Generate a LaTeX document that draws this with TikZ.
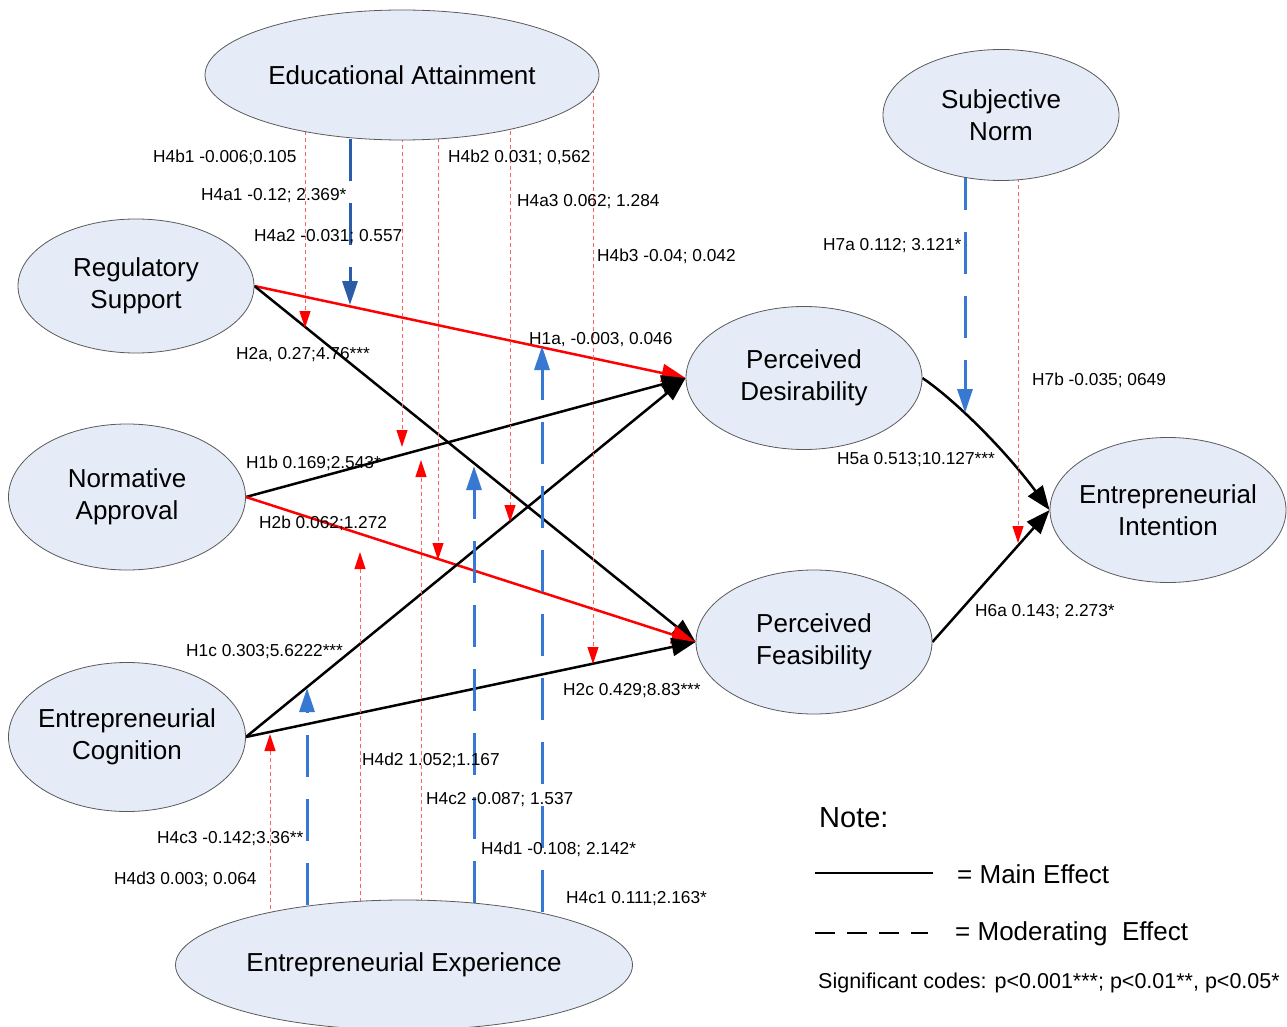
\documentclass[tikz,border=0pt]{standalone}
\usepackage{fontspec}
\setmainfont{Liberation Sans}
\usetikzlibrary{arrows.meta,shapes.geometric,backgrounds}
\definecolor{nodefill}{RGB}{230,236,247}
\definecolor{nodeedge}{RGB}{90,90,90}
\definecolor{darkblue}{RGB}{43,92,168}
\definecolor{lightblue}{RGB}{55,120,210}
\definecolor{dotred}{RGB}{255,95,95}
\tikzset{
  construct/.style={ellipse, draw=nodeedge, line width=0.8pt, fill=nodefill, inner xsep=-20pt, inner ysep=0pt, align=center, font=\fontsize{26}{31.5}\selectfont},
  lbl/.style={anchor=west, inner sep=0pt, font=\fontsize{17.3}{20}\selectfont},
  mainblack/.style={black, line width=2.5pt, -{Triangle[length=24pt,width=18pt]}},
  mainred/.style={red, line width=2.5pt, -{Triangle[length=24pt,width=18pt]}},
  modsig/.style={line width=3pt, dash pattern=on 42pt off 22pt, -{Triangle[length=24pt,width=15pt]}},
  modns/.style={dotred, line width=1pt, dash pattern=on 4pt off 3pt, -{Triangle[length=17pt,width=11pt,color=red]}},
}
\begin{document}
\begin{tikzpicture}[x=1pt,y=-1pt]
\useasboundingbox (0,0) rectangle (1287,1027);
% constructs
\node[construct, minimum width=394pt, minimum height=130pt] (ea) at (402,75) {Educational Attainment};
\node[construct, minimum width=236pt, minimum height=131pt] (sn) at (1001,115) {Subjective\\Norm};
\node[construct, minimum width=236pt, minimum height=134pt] (rs) at (136,286) {Regulatory\\Support};
\node[construct, minimum width=237pt, minimum height=146pt] (na) at (127,497) {Normative\\Approval};
\node[construct, minimum width=237pt, minimum height=149pt] (ec) at (127,737) {Entrepreneurial\\Cognition};
\node[construct, minimum width=236pt, minimum height=143pt] (pd) at (804,378) {Perceived\\Desirability};
\node[construct, minimum width=236pt, minimum height=144pt] (pf) at (814,642) {Perceived\\Feasibility};
\node[construct, minimum width=236pt, minimum height=145pt] (ei) at (1168,510) {Entrepreneurial\\Intention};
\node[construct, minimum width=457pt, minimum height=130pt] (ee) at (404,965) {Entrepreneurial Experience};
% tips of moderating arrows
\coordinate (m1) at (350,305);
\coordinate (m2) at (305,328);
\coordinate (m3) at (402,447);
\coordinate (m4) at (438,560);
\coordinate (m5) at (510,522);
\coordinate (m6) at (593,664);
\coordinate (m7) at (965,413);
\coordinate (m8) at (1018,543);
\coordinate (m9) at (307,688);
\coordinate (m10) at (474,466);
\coordinate (m11) at (542,346);
\coordinate (m12) at (270,734);
\coordinate (m13) at (360,552);
\coordinate (m14) at (421,460);
% legend coordinates
\coordinate (l1a) at (815,873);
\coordinate (l1b) at (933,873);
\coordinate (l2a) at (815,933);
\coordinate (l2b) at (928,933);
\begin{scope}[on background layer]
% main effects
\draw[mainred] (rs.east) -- (pd.west);
\draw[mainblack] (rs.east) -- (pf.west);
\draw[mainblack] (na.east) -- (pd.west);
\draw[mainred] (na.east) -- (pf.west);
\draw[mainblack] (ec.east) -- (pd.west);
\draw[mainblack] (ec.east) -- (pf.west);
\draw[mainblack] (pd.east) .. controls (955,400) and (1005,450) .. (ei.west);
\draw[mainblack] (pf.east) -- (ei.west);
% moderating effects, significant
\draw[modsig, darkblue, dash phase=0pt] (ea.center -| m1) -- (m1);
\draw[modsig, lightblue, dash phase=11pt] (sn.center -| m7) -- (m7);
\draw[modsig, lightblue, dash phase=4pt] (ee.center -| m9) -- (m9);
\draw[modsig, lightblue, dash phase=2pt] (ee.center -| m10) -- (m10);
\draw[modsig, lightblue, dash phase=11pt] (ee.center -| m11) -- (m11);
% moderating effects, not significant
\draw[modns] (ea.center -| m2) -- (m2);
\draw[modns] (ea.center -| m3) -- (m3);
\draw[modns] (ea.center -| m4) -- (m4);
\draw[modns] (ea.center -| m5) -- (m5);
\draw[modns] (ea.center -| m6) -- (m6);
\draw[modns] (sn.center -| m8) -- (m8);
\draw[modns] (ee.center -| m12) -- (m12);
\draw[modns] (ee.center -| m13) -- (m13);
\draw[modns] (ee.center -| m14) -- (m14);
\end{scope}
% labels
\node[lbl] (t1) at (153,157) {H4b1 -0.006;0.105};
\node[lbl] (t2) at (201,196) {H4a1 -0.12; 2.369*};
\node[lbl] (t3) at (254,237) {H4a2 -0.031; 0.557};
\node[lbl] (t4) at (448,157) {H4b2 0.031; 0,562};
\node[lbl] (t5) at (517,202) {H4a3 0.062; 1.284};
\node[lbl] (t6) at (597,256) {H4b3 -0.04; 0.042};
\node[lbl] (t7) at (236,355) {H2a, 0.27;4.76***};
\node[lbl] (t8) at (529,340) {H1a, -0.003, 0.046};
\node[lbl] (t9) at (246,463) {H1b 0.169;2.543*};
\node[lbl] (t10) at (259,523) {H2b 0.062;1.272};
\node[lbl] (t11) at (186,652) {H1c 0.303;5.6222***};
\node[lbl] (t12) at (563,691) {H2c 0.429;8.83***};
\node[lbl] (t13) at (362,760) {H4d2 1.052;1.167};
\node[lbl] (t14) at (426,800) {H4c2 -0.087; 1.537};
\node[lbl] (t15) at (157,839) {H4c3 -0.142;3.36**};
\node[lbl] (t16) at (481,849) {H4d1 -0.108; 2.142*};
\node[lbl] (t17) at (114,879) {H4d3 0.003; 0.064};
\node[lbl] (t18) at (566,899) {H4c1 0.111;2.163*};
\node[lbl] (t19) at (823,246) {H7a 0.112; 3.121*};
\node[lbl] (t20) at (1032,380) {H7b -0.035; 0649};
\node[lbl] (t21) at (837,460) {H5a 0.513;10.127***};
\node[lbl] (t22) at (975,612) {H6a 0.143; 2.273*};
% legend
\node[anchor=west, inner sep=0pt, font=\fontsize{29}{34}\selectfont] (note) at (819,818) {Note:};
\draw[black, line width=2.5pt] (l1a) -- (l1b);
\node[anchor=west, inner sep=0pt, font=\fontsize{26}{31}\selectfont] (leg1) at (957,874) {= Main Effect};
\draw[black, line width=2.5pt, dash pattern=on 20pt off 12pt] (l2a) -- (l2b);
\node[anchor=west, inner sep=0pt, font=\fontsize{26}{31}\selectfont] (leg2) at (955,934) {= Moderating\ \ Effect};
\node[anchor=west, inner sep=0pt, font=\fontsize{21.5}{25}\selectfont] (codes) at (818,983) {Significant codes: p<0.001***; p<0.01**, p<0.05*};
\end{tikzpicture}
\end{document}
